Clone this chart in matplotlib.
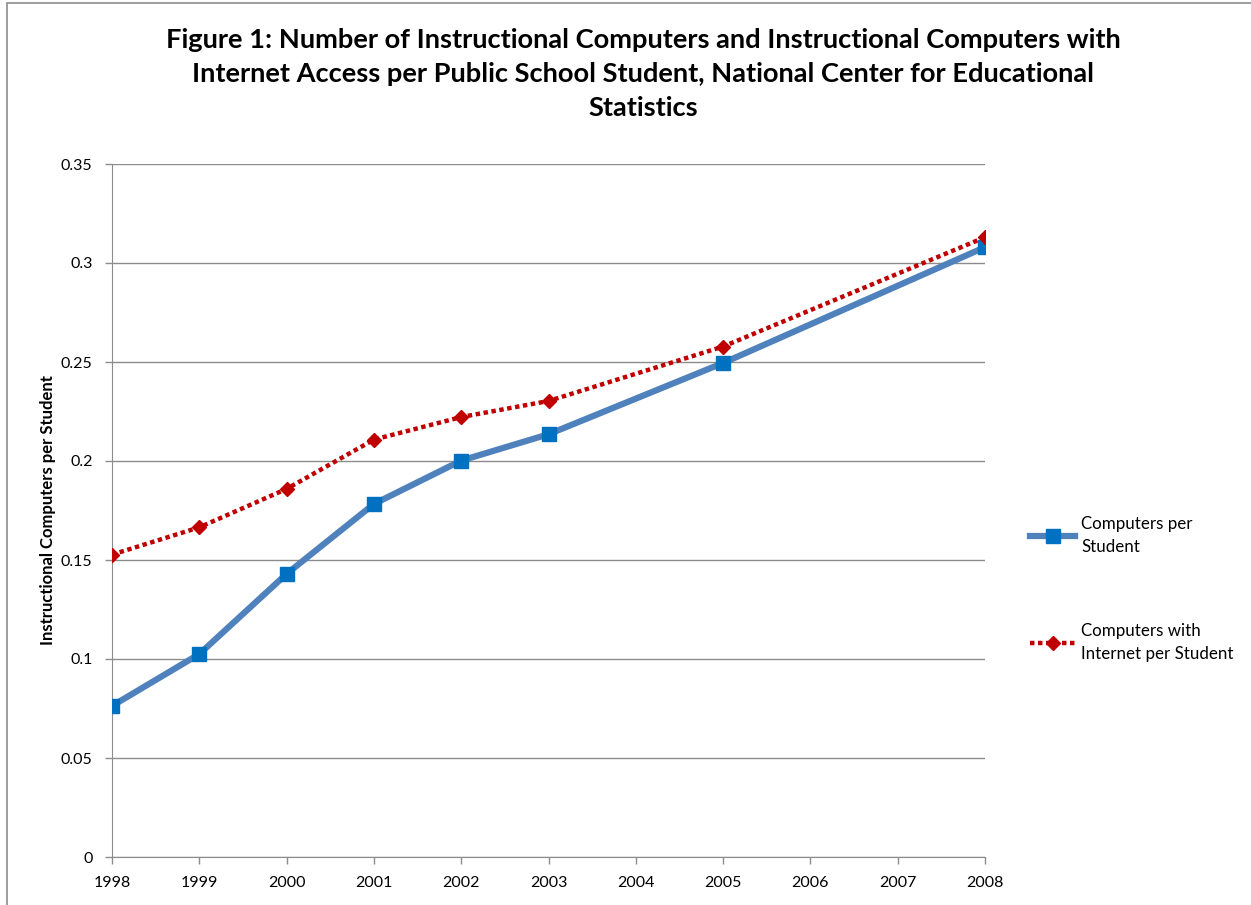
import numpy as np
import matplotlib.pyplot as plt
from matplotlib.patches import Rectangle

plt.rcParams['font.family'] = ['Lato', 'DejaVu Sans']

# Data
years = [1998, 1999, 2000, 2001, 2002, 2003, 2005, 2008]
computers = [0.0763, 0.1025, 0.1430, 0.1783, 0.2002, 0.2135, 0.2495, 0.3080]
internet = [0.1527, 0.1665, 0.1859, 0.2108, 0.2222, 0.2303, 0.2578, 0.3130]
xticks = list(range(1998, 2009))
yticks = [0, 0.05, 0.1, 0.15, 0.2, 0.25, 0.3, 0.35]

title = ('Figure 1: Number of Instructional Computers and Instructional Computers with\n'
         'Internet Access per Public School Student, National Center for Educational\n'
         'Statistics')

fig = plt.figure(figsize=(12.51, 9.05), dpi=100)
ax = fig.add_axes([112 / 1251, 48 / 905, 873 / 1251, 693 / 905])

grid_c = '#8c8c8c'
ax.plot(years, computers, color='#4F81BD', lw=4.5, marker='s', ms=10,
        mfc='#0070C0', mec='#0070C0', label='Computers per\nStudent', zorder=3)
ax.plot(years, internet, color='#C00000', lw=3.2, ls=(0, (1, 0.8)), marker='D', ms=7.5,
        mfc='#C00000', mec='#C00000', label='Computers with\nInternet per Student', zorder=4)

ax.set_xlim(1998, 2008)
ax.set_ylim(0, 0.35)
ax.set_xticks(xticks)
ax.set_yticks(yticks)
ax.set_yticklabels([('%g' % v) for v in yticks])
ax.yaxis.grid(True, color=grid_c, lw=1)
ax.set_axisbelow(True)
for s in ['top', 'right']:
    ax.spines[s].set_visible(False)
for s in ['left', 'bottom']:
    ax.spines[s].set_color(grid_c)
ax.tick_params(axis='both', colors=grid_c, labelcolor='black', labelsize=11.5, length=5, width=1)
ax.tick_params(axis='y', pad=9)
ax.tick_params(axis='x', pad=9)
ax.set_ylabel('Instructional Computers per Student', fontsize=12, fontweight='bold')
ax.yaxis.set_label_coords(-0.064, 0.5)

fig.text(643 / 1251, 1 - 74 / 905, title, ha='center', va='center', fontsize=19.6,
         fontweight='bold', linespacing=1.5)

leg = fig.legend(loc='center left', bbox_to_anchor=(1015 / 1251, 1 - 589 / 905), frameon=False,
                 fontsize=12.2, labelspacing=4.0, handlelength=2.65, handletextpad=0.35)
for t in leg.get_texts():
    t.set_linespacing(1.55)

fig.patches.append(Rectangle((7 / 1251, -0.1), 1.2, 1.1 - 3 / 905, transform=fig.transFigure,
                             fill=False, ec='#8c8c8c', lw=1.2))

fig.savefig('out.png', dpi=100)
